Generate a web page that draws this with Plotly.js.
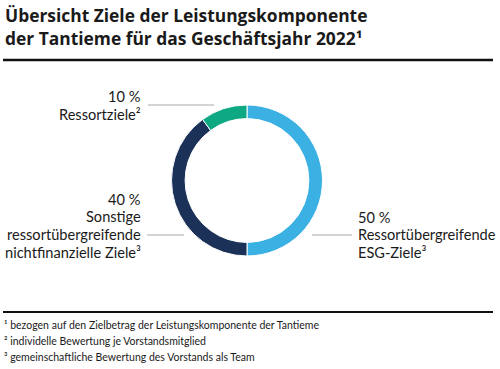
<!DOCTYPE html>
<html><head><meta charset="utf-8">
<script src="https://cdn.plot.ly/plotly-3.0.1.min.js"></script>
<style>html,body{margin:0;padding:0;background:#fff}#chart{width:500px;height:369px}</style>
</head><body><div id="chart"></div>
<script>
const labels = ["Ressortübergreifende ESG-Ziele", "Sonstige ressortübergreifende nichtfinanzielle Ziele", "Ressortziele"];
const values = [50, 40, 10];
const colors = ["#3BB0E3", "#1B3157", "#0EA882"];
const titleLines = ["Übersicht Ziele der Leistungskomponente", "der Tantieme für das Geschäftsjahr 2022¹"];
const footnotes = [
  "¹ bezogen auf den Zielbetrag der Leistungskomponente der Tantieme",
  "² individelle Bewertung je Vorstandsmitglied",
  "³ gemeinschaftliche Bewertung des Vorstands als Team"
];
const labelLinesESG = ["50 %", "Ressortübergreifende", "ESG-Ziele³"];
const labelLinesSonst = ["40 %", "Sonstige", "ressortübergreifende", "nichtfinanzielle Ziele³"];
const labelLinesRessort = ["10 %", "Ressortziele²"];

const W = 500, H = 369;
const px = x => x / W;
const py = y => 1 - y / H;
const FONT = "Lato";
const txt = "#1a1a1a";

const annotations = [];
function ann(text, x, y, xanchor, size, family, bold) {
  annotations.push({text: bold ? "<b>" + text + "</b>" : text, x: px(x), y: py(y), xref: "paper", yref: "paper",
    xanchor: xanchor, yanchor: "middle", align: xanchor, showarrow: false, font: {family: family, size: size, color: txt}});
}
ann(titleLines.join("<br>"), 3, 26.5, "left", 17.4, "Open Sans", true);
labelLinesRessort.forEach((t, i) => ann(t, 143, 96 + i * 18, "right", 14.6, FONT));
labelLinesSonst.forEach((t, i) => ann(t, 143, 199 + i * 17.7, "right", 14.6, FONT));
labelLinesESG.forEach((t, i) => ann(t, 356, 217 + i * 17.7, "left", 14.6, FONT));
footnotes.forEach((t, i) => ann(t, 2, 325 + i * 16, "left", 10.5, FONT));

const line = (x0, y0, x1, y1, w, c) => ({type: "line", xref: "paper", yref: "paper",
  x0: px(x0), y0: py(y0), x1: px(x1), y1: py(y1), line: {color: c, width: w}});
const shapes = [
  line(3, 60, 493, 60, 2.5, "#111"),
  line(3, 312, 493, 312, 2, "#111"),
  line(148, 105, 214, 105, 1.2, "#aaa"),
  line(147, 235, 184, 235, 1.2, "#aaa"),
  line(312, 235, 352, 235, 1.2, "#aaa")
];

const cx = 247, cy = 180.5, r = 75.5;
Plotly.newPlot("chart", [{
  type: "pie", labels: labels, values: values, hole: 0.82, sort: false, direction: "clockwise", rotation: 0,
  marker: {colors: colors, line: {color: "#fff", width: 1}}, textinfo: "none", hoverinfo: "none",
  domain: {x: [px(cx - r), px(cx + r)], y: [py(cy + r), py(cy - r)]}
}], {
  width: W, height: H, margin: {l: 0, r: 0, t: 0, b: 0}, showlegend: false,
  paper_bgcolor: "#fff", annotations: annotations, shapes: shapes
}, {staticPlot: true});
</script></body></html>
